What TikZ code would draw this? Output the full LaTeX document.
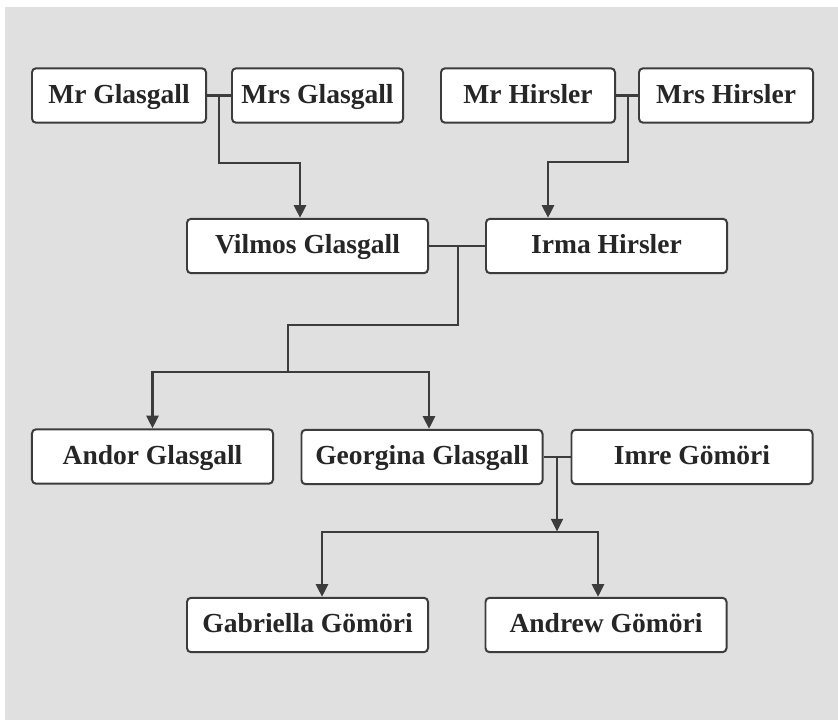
\documentclass[tikz,border=0pt]{standalone}
\usepackage{fontspec}
\setmainfont{Liberation Serif}
\usepackage{xcolor}
\usetikzlibrary{arrows.meta}
\definecolor{bggray}{HTML}{E0E0E0}
\definecolor{linegray}{HTML}{3C3C3C}

\begin{document}
\begin{tikzpicture}[
  x=0.03cm, y=-0.03cm,
  person/.style={rectangle, draw=linegray, line width=1.7pt, rounded corners=0.12cm, fill=white,
    minimum width=7.23cm, minimum height=1.63cm, inner sep=0pt, text=black!85,
    font=\bfseries\fontsize{23.5}{27}\selectfont, text height=17.5pt, text depth=4.5pt},
  parent/.style={person, minimum width=5.22cm},
  link/.style={draw=linegray, line width=1.9pt},
  child/.style={link, -{Triangle[length=0.38cm, width=0.36cm]}}
]

\useasboundingbox (0,0) rectangle (838,720);
\fill[bggray] (5,7) rectangle (838,720);

\node[parent] (mrglasgall) at (119,95.5) {Mr Glasgall};
\node[parent, minimum width=5.13cm] (mrsglasgall) at (317.5,95.5) {Mrs Glasgall};
\node[parent] (mrhirsler) at (528,95.5) {Mr Hirsler};
\node[parent] (mrshirsler) at (726,95.5) {Mrs Hirsler};
\node[person] (vilmos) at (307.5,246) {Vilmos Glasgall};
\node[person] (irma) at (606.5,246) {Irma Hirsler};
\node[person] (andor) at (152.5,456.5) {Andor Glasgall};
\node[person] (georgina) at (422,457) {Georgina Glasgall};
\node[person] (imre) at (692,457) {Imre Gömöri};
\node[person] (gabriella) at (307.5,625) {Gabriella Gömöri};
\node[person] (andrew) at (606,625) {Andrew Gömöri};

% Glasgall parents
\draw[link] (mrglasgall) -- (mrsglasgall);
\coordinate (gjoin) at (219,95.5);
\coordinate (gbend) at (300,163);
\draw[child] (gjoin) |- (gbend) -- (gbend |- vilmos.north);

% Hirsler parents
\draw[link] (mrhirsler) -- (mrshirsler);
\coordinate (hjoin) at (628,95.5);
\coordinate (hbend) at (548,162);
\draw[child] (hjoin) |- (hbend) -- (hbend |- irma.north);

% Vilmos + Irma
\draw[link] (vilmos) -- (irma);
\coordinate (vjoin) at (458,246);
\coordinate (vbend) at (288,325);
\coordinate (vbar) at (288,372);
\coordinate (vright) at (429,372);
\draw[link] (vjoin) |- (vbend) -- (vbar);
\draw[child] (vbar) -| (andor.north);
\draw[child] (vbar) -| (vright |- georgina.north);

% Georgina + Imre
\draw[link] (georgina) -- (imre);
\coordinate (gijoin) at (557,457);
\coordinate (gibar) at (557,532);
\coordinate (gileft) at (322,532);
\coordinate (giright) at (598,532);
\draw[child, shorten >=0.5pt] (gijoin) -- (gibar);
\draw[child] (gibar) -| (gileft |- gabriella.north);
\draw[child] (gibar) -| (giright |- andrew.north);

\end{tikzpicture}
\end{document}
